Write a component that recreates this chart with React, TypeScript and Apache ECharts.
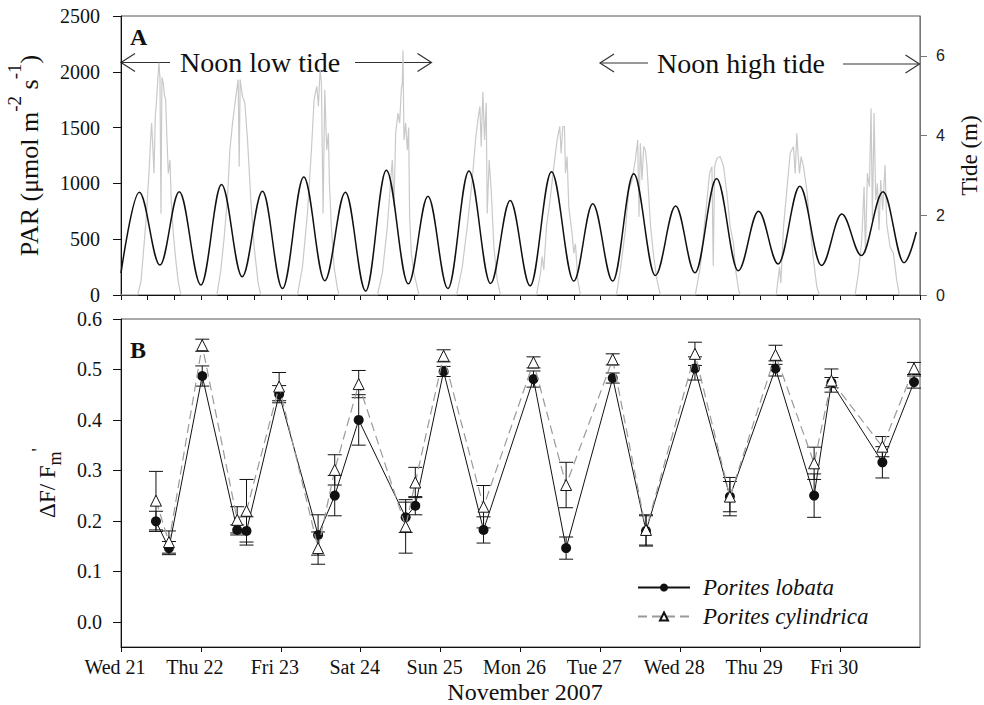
import React, { useEffect, useRef } from 'react';
import * as echarts from 'echarts';

// ---------- data ----------
const dayLabels = ['Wed 21', 'Thu 22', 'Fri 23', 'Sat 24', 'Sun 25', 'Mon 26', 'Tue 27', 'Wed 28', 'Thu 29', 'Fri 30'];

// tide highs and lows: [hours since Wed 21 00:00, metres]
const tideHighLow: [number, number][] = [
  [0, 0.55], [5.5, 2.58], [11.7, 0.75], [17.5, 2.59], [24.0, 0.25], [30.2, 2.77], [36.4, 0.46],
  [42.5, 2.6], [48.5, 0.16], [54.9, 2.96], [61.2, 0.36], [67.4, 2.58], [73.5, 0.1], [79.7, 3.13],
  [86.3, 0.28], [92.2, 2.48], [98.2, 0.16], [104.5, 3.11], [111.0, 0.29], [116.9, 2.37], [122.9, 0.23],
  [129.3, 3.09], [136.0, 0.35], [141.7, 2.29], [147.7, 0.35], [154.0, 3.04], [160.5, 0.49], [166.6, 2.23],
  [172.4, 0.56], [178.9, 2.92], [185.4, 0.61], [191.5, 2.1], [197.4, 0.78], [203.9, 2.73], [210.4, 0.74],
  [216.5, 2.03], [222.4, 0.99], [228.9, 2.59], [235.2, 0.81], [238.9, 1.58],
];

// PAR per day: [hour of day, µmol m-2 s-1]
const parWed21: [number, number][] = [
  [5.0, 0], [6.0, 120], [6.7, 370], [7.6, 700], [8.4, 1100], [9.0, 1450], [9.2, 1540], [9.6, 1300], [9.9, 1090],
  [10.3, 1600], [10.7, 1750], [11.1, 1950], [11.4, 2080], [11.7, 1950], [12.0, 730], [12.3, 1950], [12.7, 1900],
  [13.0, 1800], [13.4, 1750], [13.8, 1400], [14.2, 1090], [14.7, 1210], [15.1, 850], [15.7, 555], [16.5, 300],
  [17.2, 120], [18.0, 0],
];
const parThu22: [number, number][] = [
  [4.8, 0], [6.0, 225], [7.0, 520], [8.0, 880], [8.7, 1300], [9.5, 1540], [10.5, 1780], [11.2, 1930], [11.5, 1150],
  [11.8, 1930], [12.5, 1780], [13.2, 1720], [14.0, 1390], [15.0, 850], [16.0, 430], [17.2, 105], [18.0, 0],
];
const parFri23: [number, number][] = [
  [5.0, 0], [6.5, 250], [8.0, 730], [9.2, 1300], [10.0, 1750], [10.8, 1870], [11.3, 1690], [11.8, 2020], [12.2, 1900],
  [12.7, 730], [13.2, 1840], [13.8, 1300], [14.3, 1450], [14.6, 1000], [15.2, 600], [16.0, 250], [17.0, 60], [17.5, 0],
];
const parSat24: [number, number][] = [
  [5.0, 0], [6.5, 195], [8.0, 610], [9.0, 1030], [9.5, 1210], [10.0, 790], [10.5, 1450], [11.2, 1630], [11.7, 1540],
  [12.2, 1840], [12.5, 1900], [12.7, 2190], [13.0, 1390], [13.5, 1540], [14.0, 1300], [14.4, 1500], [14.7, 700],
  [15.2, 375], [16.0, 195], [17.5, 0],
];
const parSun25: [number, number][] = [
  [4.8, 0], [6.5, 250], [8.0, 610], [9.5, 1030], [10.5, 1390], [11.2, 1570], [11.8, 1690], [12.2, 1330], [12.7, 1820],
  [13.2, 1390], [13.7, 1720], [14.0, 730], [14.6, 1210], [15.2, 940], [16.0, 430], [17.0, 135], [18.0, 0],
];
const parMon26: [number, number][] = [
  [4.8, 0], [6.0, 195], [6.5, 345], [7.0, 225], [7.8, 610], [9.0, 880], [10.0, 1150], [11.0, 1390], [11.8, 1510],
  [12.2, 1270], [12.7, 1510], [13.2, 1510], [13.5, 1090], [14.0, 1240], [14.5, 790], [15.5, 550], [16.0, 375],
  [16.5, 460], [17.2, 135], [18.0, 0],
];
const parTue27: [number, number][] = [
  [4.8, 0], [6.0, 225], [7.5, 580], [8.5, 940], [9.5, 1030], [10.5, 1210], [11.2, 1390], [11.6, 700], [12.0, 1360],
  [12.5, 1030], [13.0, 1330], [13.5, 1300], [14.0, 1150], [15.0, 640], [16.0, 345], [17.0, 135], [18.0, 0],
];
const parWed28: [number, number][] = [
  [4.5, 0], [6.0, 250], [7.5, 700], [8.8, 1090], [9.5, 1150], [9.9, 260], [10.3, 1150], [11.0, 1225], [12.0, 1240],
  [13.0, 1150], [14.0, 910], [15.0, 610], [16.0, 460], [16.5, 250], [17.5, 45], [18.0, 0],
];
const parThu29: [number, number][] = [
  [4.8, 0], [5.8, 250], [6.2, 105], [7.0, 610], [8.0, 940], [9.0, 1270], [10.0, 1330], [10.5, 1090], [11.0, 1450],
  [11.3, 1300], [11.8, 1090], [12.3, 1240], [13.0, 1150], [14.0, 940], [15.0, 610], [16.0, 315], [17.0, 75], [17.8, 0],
];
const parFri30: [number, number][] = [
  [4.5, 0], [5.5, 195], [6.5, 490], [7.2, 970], [7.6, 375], [8.2, 1090], [8.8, 970], [9.3, 1670], [9.7, 670],
  [10.2, 1630], [10.7, 850], [11.2, 1000], [11.7, 580], [12.2, 1030], [12.8, 760], [13.5, 1165], [14.0, 640],
  [15.0, 430], [16.0, 375], [17.0, 135], [17.8, 0],
];
const parByDay = [parWed21, parThu22, parFri23, parSat24, parSun25, parMon26, parTue27, parWed28, parThu29, parFri30];

// Effective quantum yield samples
const sampleHours = [10.5, 14.4, 24.4, 34.9, 37.7, 47.5, 59.2, 64.2, 71.4, 85.5, 88.4, 96.9, 108.9, 123.9, 133.7, 147.7, 157.7, 172.4, 182.9, 196.6, 208.2, 213.4, 228.7, 238.2];
const lobataMean = [0.199, 0.146, 0.487, 0.182, 0.18, 0.451, 0.172, 0.25, 0.4, 0.207, 0.23, 0.496, 0.182, 0.481, 0.146, 0.483, 0.18, 0.502, 0.248, 0.502, 0.25, 0.474, 0.316, 0.475];
const lobataErr = [0.02, 0.013, 0.02, 0.01, 0.028, 0.017, 0.04, 0.04, 0.05, 0.03, 0.018, 0.01, 0.026, 0.016, 0.022, 0.01, 0.03, 0.023, 0.038, 0.015, 0.043, 0.01, 0.031, 0.012];
const cylindricaMean = [0.24, 0.158, 0.548, 0.202, 0.22, 0.466, 0.146, 0.301, 0.471, 0.189, 0.276, 0.527, 0.228, 0.514, 0.271, 0.52, 0.182, 0.531, 0.248, 0.529, 0.314, 0.478, 0.347, 0.502];
const cylindricaErr = [0.058, 0.022, 0.012, 0.026, 0.062, 0.028, 0.032, 0.03, 0.027, 0.053, 0.03, 0.012, 0.042, 0.011, 0.045, 0.011, 0.03, 0.023, 0.03, 0.019, 0.032, 0.023, 0.02, 0.012];

const parTicks = [0, 500, 1000, 1500, 2000, 2500];
const tideTicks = [0, 2, 4, 6];
const yieldTicks = [0, 0.1, 0.2, 0.3, 0.4, 0.5, 0.6];
const dayTicks = dayLabels.map((_, i) => i * 24);

// ---------- chart ----------
const SERIF = 'Liberation Serif, Times New Roman, serif';
const SANS = 'Liberation Sans, Arial, sans-serif';
const INK = '#111';

export default function App() {
  const ref = useRef<HTMLDivElement>(null);

  useEffect(() => {
    if (!ref.current) return;
    const chart = echarts.init(ref.current, null, { renderer: 'svg' });

    const parData: [number, number][] = [[0, 0]];
    parByDay.forEach((day, d) => day.forEach(([h, v]) => parData.push([d * 24 + h, v])));
    parData.push([240, 0]);

    const lobataPts = sampleHours.map((h, i) => [h, lobataMean[i]]);
    const cylPts = sampleHours.map((h, i) => [h, cylindricaMean[i]]);
    const lobataBars = sampleHours.map((h, i) => [h, lobataMean[i] - lobataErr[i], lobataMean[i] + lobataErr[i]]);
    const cylBars = sampleHours.map((h, i) => [h, cylindricaMean[i] - cylindricaErr[i], cylindricaMean[i] + cylindricaErr[i]]);

    const errRender = (_p: any, api: any) => {
      const x = api.value(0);
      const lo = api.coord([x, api.value(1)]);
      const hi = api.coord([x, api.value(2)]);
      const cap = 7;
      const style = { stroke: INK, lineWidth: 1 };
      return {
        type: 'group',
        children: [
          { type: 'line', shape: { x1: lo[0], y1: lo[1], x2: hi[0], y2: hi[1] }, style },
          { type: 'line', shape: { x1: lo[0] - cap, y1: lo[1], x2: lo[0] + cap, y2: lo[1] }, style },
          { type: 'line', shape: { x1: hi[0] - cap, y1: hi[1], x2: hi[0] + cap, y2: hi[1] }, style },
        ],
      };
    };

    const arrowStyle = { stroke: '#333', lineWidth: 1.2, fill: 'none' };
    const annText = (text: string, x: number, y: number) => ({
      type: 'text', x, y,
      style: { text, fontFamily: SERIF, fontSize: 28, fill: INK, align: 'left', verticalAlign: 'middle' },
    });
    const hLine = (x1: number, x2: number, y: number) => ({ type: 'line', shape: { x1, y1: y, x2, y2: y }, style: arrowStyle });
    const head = (tip: number, y: number, dir: number) => ({
      type: 'polyline',
      shape: { points: [[tip - dir * 14, y - 9], [tip, y], [tip - dir * 14, y + 9]] },
      style: arrowStyle,
    });

    const option: any = {
      animation: false,
      backgroundColor: '#fff',
      textStyle: { fontFamily: SERIF },
      grid: [
        { left: 121, top: 16, width: 799, height: 279, outerBoundsMode: 'none', containLabel: false, show: true, borderColor: '#555', borderWidth: 1, backgroundColor: 'transparent' },
        { left: 121, top: 319, width: 799, height: 328, outerBoundsMode: 'none', containLabel: false, show: true, borderColor: '#555', borderWidth: 1, backgroundColor: 'transparent' },
      ],
      xAxis: [
        {
          gridIndex: 0, type: 'value', min: 0, max: 240, interval: 8,
          axisLine: { onZero: false, lineStyle: { color: INK, width: 1 } },
          axisTick: { show: true, length: 5, lineStyle: { color: INK } },
          axisLabel: { show: false }, splitLine: { show: false },
        },
        {
          gridIndex: 1, type: 'value', min: 0, max: 240, interval: 24,
          axisLine: { onZero: false, lineStyle: { color: INK, width: 1 } },
          axisTick: { show: true, length: 5, lineStyle: { color: INK }, customValues: dayTicks },
          axisLabel: {
            customValues: dayTicks,
            formatter: (v: number) => dayLabels[Math.round(v / 24)] ?? '',
            fontFamily: SERIF, fontSize: 20, color: INK, margin: 10, padding: [0, 12, 0, 0],
          },
          splitLine: { show: false },
          name: 'November 2007', nameLocation: 'middle', nameGap: 33,
          nameTextStyle: { fontFamily: SERIF, fontSize: 24, color: INK, padding: [0, 0, 0, 9] },
        },
      ],
      yAxis: [
        {
          gridIndex: 0, type: 'value', min: 0, max: 2500, interval: 500,
          axisLine: { show: true, lineStyle: { color: INK } },
          axisTick: { show: true, length: 8, lineStyle: { color: INK }, customValues: parTicks },
          axisLabel: { customValues: parTicks, formatter: (v: number) => String(v), fontFamily: SERIF, fontSize: 20, color: INK, margin: 21 },
          splitLine: { show: false },
          name: '{b|PAR (μmol m}{sup|-2}{b| s}{sup|-1}{b|)}',
          nameLocation: 'middle', nameRotate: 90, nameGap: 68,
          nameTextStyle: {
            rich: {
              b: { fontFamily: SERIF, fontSize: 26, lineHeight: 48, color: INK },
              sup: { fontFamily: SERIF, fontSize: 19, lineHeight: 19, verticalAlign: 'top', color: INK },
            },
          },
        },
        {
          gridIndex: 0, type: 'value', position: 'right', min: 0, max: 7, interval: 2,
          axisLine: { show: true, lineStyle: { color: '#777' } },
          axisTick: { show: true, length: 7, lineStyle: { color: '#777' }, customValues: tideTicks },
          axisLabel: { customValues: tideTicks, fontFamily: SANS, fontSize: 16, color: '#222', margin: 16 },
          splitLine: { show: false },
          name: 'Tide (m)', nameLocation: 'middle', nameRotate: 90, nameGap: 39,
          nameTextStyle: { fontFamily: SERIF, fontSize: 23, lineHeight: 20, color: INK },
        },
        {
          gridIndex: 1, type: 'value', min: -0.05, max: 0.6,
          axisLine: { show: true, lineStyle: { color: INK } },
          axisTick: { show: true, length: 8, lineStyle: { color: INK }, customValues: yieldTicks },
          axisLabel: { customValues: yieldTicks, formatter: (v: number) => v.toFixed(1), fontFamily: SERIF, fontSize: 20, color: INK, margin: 19 },
          splitLine: { show: false },
          name: "{b|ΔF/ F}{sub|m}{sup|'}",
          nameLocation: 'middle', nameRotate: 90, nameGap: 57,
          nameTextStyle: {
            rich: {
              b: { fontFamily: SERIF, fontSize: 23, lineHeight: 34, color: INK },
              sub: { fontFamily: SERIF, fontSize: 18, lineHeight: 18, verticalAlign: 'bottom', color: INK },
              sup: { fontFamily: SERIF, fontSize: 18, lineHeight: 18, verticalAlign: 'top', color: INK },
            },
          },
        },
      ],
      legend: {
        data: ['Porites lobata', 'Porites cylindrica'],
        orient: 'vertical', left: 637, top: 576, padding: 0,
        itemWidth: 52, itemHeight: 10, itemGap: 6,
        textStyle: { fontFamily: SERIF, fontStyle: 'italic', fontSize: 23, lineHeight: 22, color: INK, padding: [0, 0, 0, 8] },
      },
      graphic: [
        { type: 'text', x: 130, y: 37, style: { text: 'A', fontFamily: SERIF, fontWeight: 'bold', fontSize: 24, fill: INK, verticalAlign: 'middle' } },
        { type: 'text', x: 130, y: 350, style: { text: 'B', fontFamily: SERIF, fontWeight: 'bold', fontSize: 24, fill: INK, verticalAlign: 'middle' } },
        hLine(121, 170, 62.5), head(121, 62.5, -1),
        annText('Noon low tide', 180, 62),
        hLine(355, 431.5, 62.5), head(431.5, 62.5, 1),
        hLine(600, 648, 63), head(600, 63, -1),
        annText('Noon high tide', 657, 63),
        hLine(843, 919.5, 64), head(919.5, 64, 1),
      ],
      series: [
        {
          name: 'PAR', type: 'line', xAxisIndex: 0, yAxisIndex: 0, data: parData,
          showSymbol: false, lineStyle: { color: '#c9c9c9', width: 1.2 }, z: 2,
        },
        {
          name: 'Tide', type: 'line', xAxisIndex: 0, yAxisIndex: 1, data: tideHighLow,
          showSymbol: false, smooth: 0.36, smoothMonotone: 'x', lineStyle: { color: INK, width: 1.5 }, z: 3,
        },
        {
          name: 'lobataErr', type: 'custom', xAxisIndex: 1, yAxisIndex: 2, data: lobataBars,
          encode: { x: 0, y: [1, 2] }, renderItem: errRender, z: 3,
        },
        {
          name: 'Porites lobata', type: 'line', xAxisIndex: 1, yAxisIndex: 2, data: lobataPts,
          symbol: 'circle', symbolSize: 10, itemStyle: { color: INK },
          lineStyle: { color: INK, width: 1 }, z: 4,
        },
        {
          name: 'cylErr', type: 'custom', xAxisIndex: 1, yAxisIndex: 2, data: cylBars,
          encode: { x: 0, y: [1, 2] }, renderItem: errRender, z: 5,
        },
        {
          name: 'Porites cylindrica', type: 'line', xAxisIndex: 1, yAxisIndex: 2, data: cylPts,
          symbol: 'triangle', symbolSize: 11, itemStyle: { color: '#fff', borderColor: INK, borderWidth: 1 },
          lineStyle: { color: '#9a9a9a', width: 1.2, type: [9, 5] }, z: 6,
        },
      ],
    };

    chart.setOption(option);
    return () => chart.dispose();
  }, []);

  return <div ref={ref} style={{ position: 'absolute', left: 0, top: 0, width: 984, height: 705 }} />;
}
